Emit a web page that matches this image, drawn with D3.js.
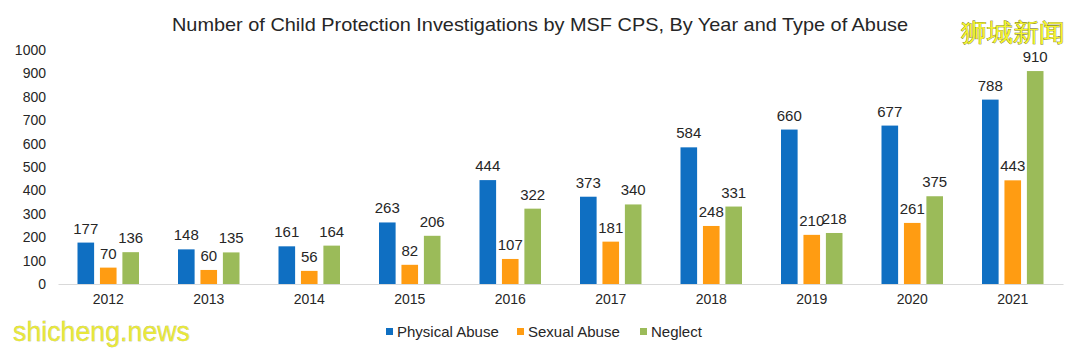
<!DOCTYPE html>
<html><head><meta charset="utf-8">
<script src="https://cdn.jsdelivr.net/npm/d3@7"></script>
<style>body{margin:0;background:#fff}svg{display:block}text{font-family:"Liberation Sans",Arial,sans-serif}</style>
</head><body><div id="c"></div>
<script>
const years = ["2012","2013","2014","2015","2016","2017","2018","2019","2020","2021"];
const seriesNames = ["Physical Abuse","Sexual Abuse","Neglect"];
const physical = [177,148,161,263,444,373,584,660,677,788];
const sexual = [70,60,56,82,107,181,248,210,261,443];
const neglect = [136,135,164,206,322,340,331,218,375,910];
const yTicks = [0,100,200,300,400,500,600,700,800,900,1000];
const colors = ["#0F6FC2","#FF9C12","#9BBB59"];
const title = "Number of Child Protection Investigations by MSF CPS, By Year and Type of Abuse";

const W=1080,H=355;
const svg=d3.select("#c").append("svg").attr("width",W).attr("height",H);
const values=[physical,sexual,neglect];
const x=d3.scaleBand().domain(years).range([58,1063]).paddingInner(0).paddingOuter(0);
const xs=d3.scaleBand().domain(seriesNames).range([19.5,81]).paddingInner(0.26);
const y=d3.scaleLinear().domain([0,1000]).range([284,50]);

svg.append("text").attr("x",540).attr("y",31).attr("text-anchor","middle")
  .attr("font-size",18.5).attr("fill","#262626").attr("textLength",736).attr("lengthAdjust","spacingAndGlyphs").text(title);

// y axis labels
const ya=svg.append("g").attr("transform","translate(46,0)")
  .call(d3.axisLeft(y).tickValues(yTicks).tickFormat(d3.format("d")).tickSize(0).tickPadding(0));
ya.select(".domain").remove();
ya.selectAll("text").attr("font-size",14).attr("fill","#262626").attr("font-family","Liberation Sans, Arial, sans-serif");

// bars
const g=svg.append("g");
years.forEach((yr,i)=>{
  seriesNames.forEach((s,j)=>{
    const v=values[j][i];
    const bx=x(yr)+xs(s);
    g.append("rect").attr("x",bx).attr("y",y(v)).attr("width",xs.bandwidth()).attr("height",y(0)-y(v)).attr("fill",colors[j]);
    g.append("text").attr("x",bx+xs.bandwidth()/2).attr("y",y(v)-9).attr("text-anchor","middle")
      .attr("font-size",15).attr("fill","#262626").text(v);
  });
});

// x axis
const xa=svg.append("g").attr("transform","translate(0,284)").call(d3.axisBottom(x).tickSize(0).tickPadding(10));
xa.select(".domain").attr("stroke","#d9d9d9").attr("stroke-width",1.2);
xa.selectAll("text").attr("font-size",14).attr("fill","#262626").attr("font-family","Liberation Sans, Arial, sans-serif");

// legend
const legX=[386,517,640];
seriesNames.forEach((s,j)=>{
  svg.append("rect").attr("x",legX[j]).attr("y",328).attr("width",7).attr("height",7).attr("fill",colors[j]);
  svg.append("text").attr("x",legX[j]+11).attr("y",337).attr("font-size",15).attr("fill","#262626").text(s);
});

// watermarks
svg.append("text").attr("x",961).attr("y",41).attr("font-size",25).attr("fill","#F4F42A")
  .attr("stroke","#555500").attr("stroke-width",0.6).attr("paint-order","stroke")
  .attr("font-family","Noto Sans CJK SC").attr("textLength",104).attr("lengthAdjust","spacingAndGlyphs").text("狮城新闻");
svg.append("text").attr("x",13).attr("y",341).attr("font-size",28).attr("fill","#E8E83A")
  .attr("stroke","#a0a060").attr("stroke-width",0.4).attr("paint-order","stroke")
  .attr("font-family","Noto Sans, sans-serif").attr("textLength",177).attr("lengthAdjust","spacingAndGlyphs").text("shicheng.news");
</script></body></html>
